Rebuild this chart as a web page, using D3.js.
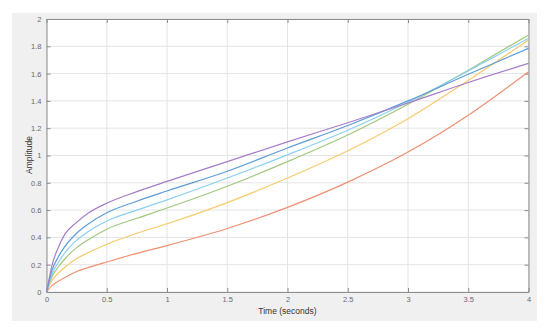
<!DOCTYPE html>
<html>
<head>
<meta charset="utf-8">
<script src="https://cdn.jsdelivr.net/npm/d3@7"></script>
<style>
  body { margin: 0; background: #fff; }
  svg text { font-family: Arial, "Liberation Sans", sans-serif; }
</style>
</head>
<body>
<div id="chart"></div>
<script>
let width = 550
let height = 331

// data
let time = [0, 0.05, 0.1, 0.15, 0.25, 0.35, 0.5, 0.75, 1, 1.5, 2, 2.5, 3, 3.5, 4]
let purple = [0, 0.21, 0.33, 0.42, 0.51, 0.58, 0.65, 0.735, 0.81, 0.955, 1.10, 1.24, 1.385, 1.535, 1.675]
let blue = [0, 0.17, 0.26, 0.33, 0.43, 0.50, 0.58, 0.665, 0.74, 0.885, 1.055, 1.22, 1.40, 1.595, 1.785]
let cyan = [0, 0.14, 0.22, 0.285, 0.38, 0.445, 0.52, 0.60, 0.675, 0.835, 1.005, 1.185, 1.39, 1.62, 1.858]
let green = [0, 0.12, 0.185, 0.24, 0.325, 0.385, 0.46, 0.54, 0.615, 0.775, 0.955, 1.15, 1.375, 1.625, 1.883]
let yellow = [0, 0.09, 0.14, 0.18, 0.245, 0.29, 0.35, 0.43, 0.50, 0.655, 0.835, 1.035, 1.27, 1.55, 1.846]
let orange = [0, 0.05, 0.08, 0.105, 0.15, 0.18, 0.22, 0.283, 0.34, 0.465, 0.62, 0.805, 1.025, 1.295, 1.614]

let series = [orange, yellow, green, cyan, blue, purple]
let colors = ['#ef9072', '#f6cb6c', '#a2c77c', '#8ad0f0', '#5e9cd6', '#a67dc9']

let xTicks = [0, 0.5, 1, 1.5, 2, 2.5, 3, 3.5, 4]
let yTicks = [0, 0.2, 0.4, 0.6, 0.8, 1, 1.2, 1.4, 1.6, 1.8, 2]

let margins = {
	'top': 19,
	'right': 21.5,
	'bottom': 39,
	'left': 46.5,
}

let innerW = width - margins.left - margins.right
let innerH = height - margins.top - margins.bottom

let xScale = d3.scaleLinear()
	.domain([0, 4])
	.range([0, innerW])

let yScale = d3.scaleLinear()
	.domain([0, 2])
	.range([innerH, 0])

let svg = d3.select('#chart').append('svg')
	.attr('width', width)
	.attr('height', height)

// grey figure background
svg.append('rect')
	.attr('x', 12).attr('y', 13)
	.attr('width', 525).attr('height', 308)
	.attr('fill', '#f0f0f0')

let inner = svg.append('g')
	.attr('transform', 'translate(' + margins.left + ',' + margins.top + ')')

inner.append('rect')
	.attr('width', innerW).attr('height', innerH)
	.attr('fill', '#fff')

// grid
let grid = inner.append('g')
grid.selectAll('.gx').data(xTicks).enter().append('line')
	.attr('x1', d => xScale(d)).attr('x2', d => xScale(d))
	.attr('y1', 0).attr('y2', innerH)
	.attr('stroke', '#e4e4e4').attr('stroke-width', 1)
grid.selectAll('.gy').data(yTicks).enter().append('line')
	.attr('y1', d => yScale(d)).attr('y2', d => yScale(d))
	.attr('x1', 0).attr('x2', innerW)
	.attr('stroke', '#e4e4e4').attr('stroke-width', 1)

let fmt = d => String(d)

let xAxis = d3.axisBottom(xScale).tickValues(xTicks).tickFormat(fmt).tickSizeInner(-4).tickSizeOuter(0).tickPadding(5)
let yAxis = d3.axisLeft(yScale).tickValues(yTicks).tickFormat(fmt).tickSizeInner(-4).tickSizeOuter(0).tickPadding(5)
let xTop = d3.axisTop(xScale).tickValues(xTicks).tickFormat('').tickSizeInner(-4).tickSizeOuter(0)
let yRight = d3.axisRight(yScale).tickValues(yTicks).tickFormat('').tickSizeInner(-4).tickSizeOuter(0)

let axes = inner.append('g')
axes.append('g').attr('transform', `translate(0,${innerH})`).call(xAxis)
axes.append('g').call(yAxis)
axes.append('g').call(xTop)
axes.append('g').attr('transform', `translate(${innerW},0)`).call(yRight)

axes.selectAll('.domain').attr('stroke', '#8c8c8c')
axes.selectAll('.tick line').attr('stroke', '#8c8c8c')
axes.selectAll('.tick text').attr('fill', '#6a6a6a').style('font-size', '7.5px')

// lines
let line = d3.line()
	.x((d, i) => xScale(time[i]))
	.y(d => yScale(d))
	.curve(d3.curveMonotoneX)

inner.append('g').selectAll('path')
	.data(series)
	.enter().append('path')
	.attr('d', d => line(d))
	.attr('fill', 'none')
	.attr('stroke', (d, i) => colors[i])
	.attr('stroke-width', 1.2)

// labels
svg.append('text')
	.attr('x', margins.left + innerW / 2)
	.attr('y', 314)
	.attr('text-anchor', 'middle')
	.attr('fill', '#333')
	.style('font-size', '8.5px')
	.text('Time (seconds)')

svg.append('text')
	.attr('transform', 'translate(32,155) rotate(-90)')
	.attr('text-anchor', 'middle')
	.attr('fill', '#333')
	.style('font-size', '8.5px')
	.text('Amplitude')
</script>
</body>
</html>
